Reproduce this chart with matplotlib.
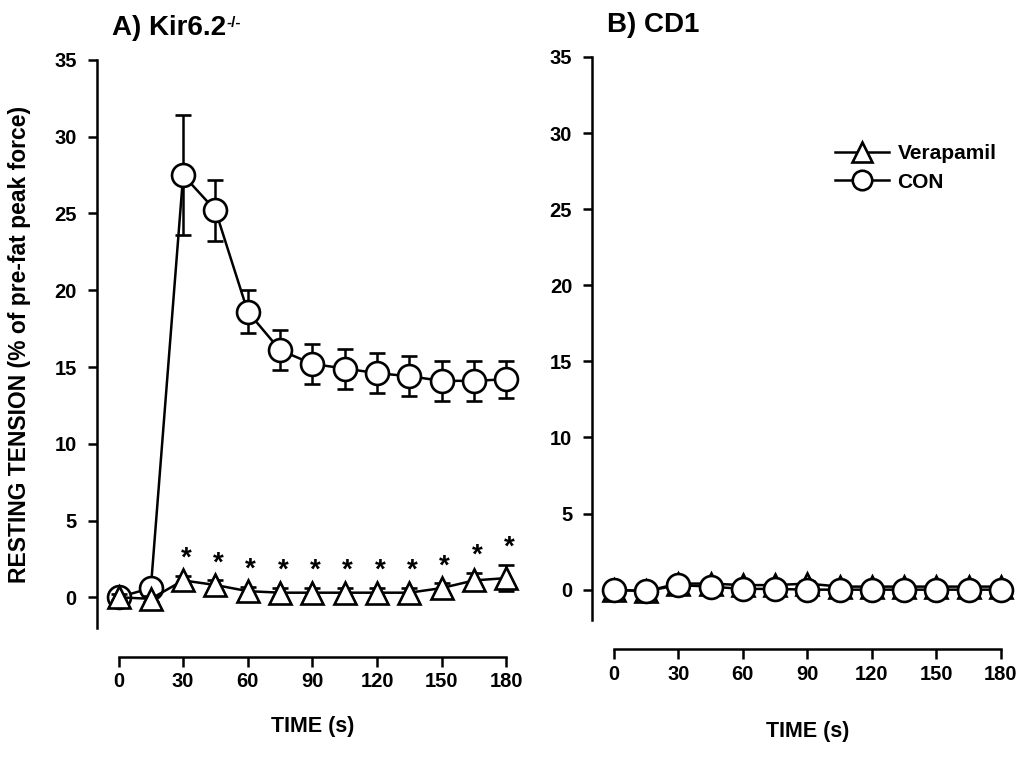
import numpy as np
import matplotlib.pyplot as plt

plt.rcParams['font.family'] = ['Liberation Sans', 'DejaVu Sans']
plt.rcParams['font.weight'] = 'bold'

time = [0, 15, 30, 45, 60, 75, 90, 105, 120, 135, 150, 165, 180]

# A) Kir6.2-/-
kir_con = [0.0, 0.6, 27.5, 25.2, 18.6, 16.1, 15.2, 14.9, 14.6, 14.4, 14.1, 14.1, 14.2]
kir_con_err = [0.2, 0.3, 3.9, 2.0, 1.4, 1.3, 1.3, 1.3, 1.3, 1.3, 1.3, 1.3, 1.2]
kir_ver = [0.0, -0.1, 1.1, 0.8, 0.4, 0.3, 0.3, 0.3, 0.3, 0.3, 0.6, 1.1, 1.25]
kir_ver_err = [0.2, 0.2, 0.3, 0.3, 0.3, 0.3, 0.3, 0.3, 0.3, 0.3, 0.3, 0.5, 0.85]
sig_times = [30, 45, 60, 75, 90, 105, 120, 135, 150, 165, 180]

# B) CD1
cd1_con = [0.0, -0.1, 0.3, 0.2, 0.05, 0.05, 0.0, 0.0, 0.0, 0.0, 0.0, 0.0, 0.0]
cd1_con_err = [0.1, 0.1, 0.2, 0.2, 0.2, 0.2, 0.2, 0.1, 0.1, 0.1, 0.1, 0.1, 0.1]
cd1_ver = [0.0, -0.1, 0.4, 0.4, 0.3, 0.3, 0.4, 0.2, 0.2, 0.2, 0.2, 0.2, 0.2]
cd1_ver_err = [0.1, 0.1, 0.2, 0.2, 0.2, 0.2, 0.2, 0.1, 0.1, 0.1, 0.1, 0.1, 0.1]

fig = plt.figure(figsize=(10.23, 7.59), dpi=100)
ax1 = fig.add_axes([0.0948, 0.1726, 0.4212, 0.7484])
ax2 = fig.add_axes([0.579, 0.183, 0.4205, 0.742])

style = dict(color='black', lw=1.8, markersize=16.5, markeredgewidth=1.9,
             markerfacecolor='white', capsize=6, elinewidth=1.8, capthick=1.8)


def setup(ax, label_y):
    ax.set_xlim(-10, 190)
    ax.set_ylim(-2, 35)
    for s in ['top', 'right']:
        ax.spines[s].set_visible(False)
    ax.spines['bottom'].set_position(('outward', 21))
    ax.spines['bottom'].set_bounds(0, 180)
    ax.spines['left'].set_linewidth(1.8)
    ax.spines['bottom'].set_linewidth(1.8)
    ax.set_xticks(range(0, 181, 30))
    ax.set_yticks(range(0, 36, 5))
    ax.tick_params(axis='y', direction='out', length=6.5, width=1.8,
                   labelsize=14.5, pad=8)
    ax.tick_params(axis='x', direction='out', length=7, width=1.8,
                   labelsize=14.5, pad=4)
    ax.set_xlabel('TIME (s)', fontsize=15.5, fontweight='bold', va='top')
    ax.xaxis.set_label_coords(0.5, label_y)


def title(ax, txt, sup=None):
    t = ax.text(0.035, 1.044, txt, transform=ax.transAxes,
                fontsize=20, fontweight='bold', va='baseline')
    if sup:
        ax.annotate(sup, xy=(1, 0.95), xycoords=t, va='top', ha='left',
                    fontsize=11, fontweight='bold')


setup(ax1, -0.155)
ax1.errorbar(time, kir_con, yerr=kir_con_err, marker='o', zorder=3, **style)
ax1.errorbar(time, kir_ver, yerr=kir_ver_err, marker='^', zorder=4, **style)
for t in sig_times:
    i = time.index(t)
    ax1.annotate('*', (t, kir_ver[i] + kir_ver_err[i]), xytext=(2, 3),
                 textcoords='offset points', ha='center', va='bottom',
                 fontsize=20, fontweight='bold')
ax1.set_ylabel('RESTING TENSION (% of pre-fat peak force)', fontsize=16.5,
               fontweight='bold', va='center')
ax1.yaxis.set_label_coords(-0.18, 0.5)
title(ax1, 'A) Kir6.2', '-/-')

setup(ax2, -0.18)
ax2.errorbar(time, cd1_ver, yerr=cd1_ver_err, marker='^', zorder=3,
             label='Verapamil', **style)
ax2.errorbar(time, cd1_con, yerr=cd1_con_err, marker='o', zorder=4,
             label='CON', **style)
title(ax2, 'B) CD1')
h, l = ax2.get_legend_handles_labels()
ax2.legend([x[0] for x in h], l, loc='upper left', bbox_to_anchor=(0.564, 0.845),
           frameon=False, fontsize=15, handlelength=2.6, handletextpad=0.4,
           labelspacing=0.45, markerscale=0.85, borderpad=0, borderaxespad=0)

fig.savefig('out.png', dpi=100)
